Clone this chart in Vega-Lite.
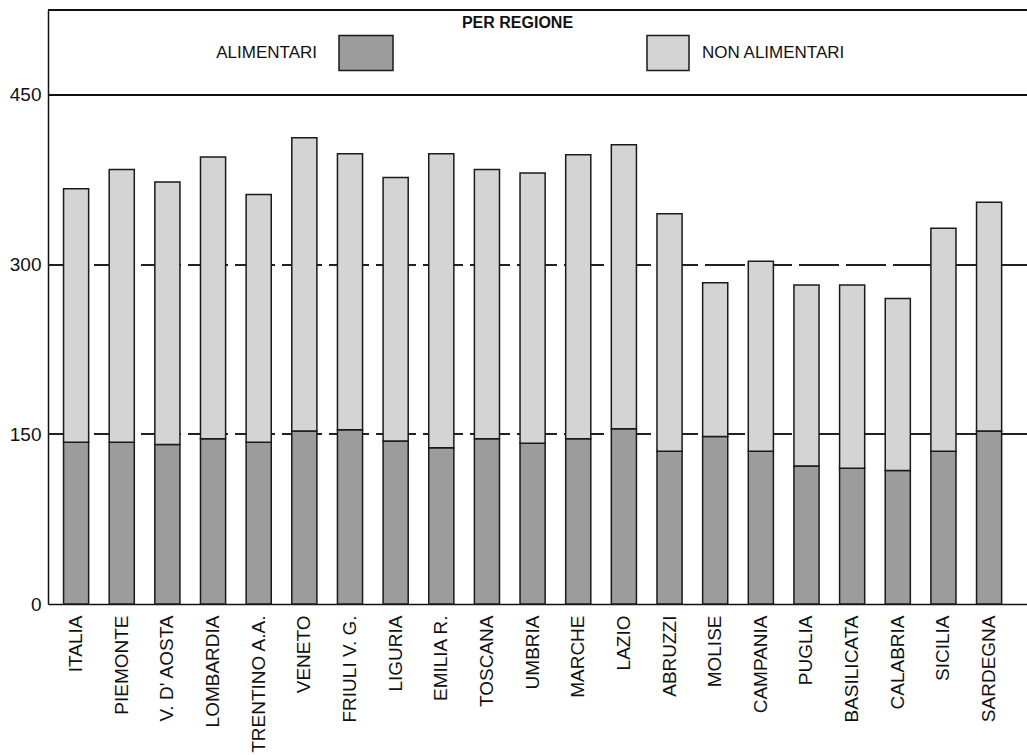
{
  "$schema": "https://vega.github.io/schema/vega-lite/v6.json",
  "width": 979,
  "height": 594,
  "autosize": {"type": "none"},
  "padding": {"left": 48, "top": 10, "right": 0, "bottom": 151},
  "background": "white",
  "config": {
    "font": "Liberation Sans",
    "view": {"stroke": null},
    "legend": {"padding": 0, "labelFont": "Liberation Sans", "labelFontSize": 17, "labelColor": "#111"}
  },
  "title": {
    "text": "PER REGIONE",
    "fontSize": 16,
    "fontWeight": "bold",
    "color": "#111",
    "anchor": "middle",
    "frame": "group",
    "dx": -20,
    "offset": -22
  },
  "data": {
    "values": [
      {"regione": "ITALIA", "alimentari": 143, "totale": 367},
      {"regione": "PIEMONTE", "alimentari": 143, "totale": 384},
      {"regione": "V.  D' AOSTA", "alimentari": 141, "totale": 373},
      {"regione": "LOMBARDIA", "alimentari": 146, "totale": 395},
      {"regione": "TRENTINO A.A.", "alimentari": 143, "totale": 362},
      {"regione": "VENETO", "alimentari": 153, "totale": 412},
      {"regione": "FRIULI V. G.", "alimentari": 154, "totale": 398},
      {"regione": "LIGURIA", "alimentari": 144, "totale": 377},
      {"regione": "EMILIA R.", "alimentari": 138, "totale": 398},
      {"regione": "TOSCANA", "alimentari": 146, "totale": 384},
      {"regione": "UMBRIA", "alimentari": 142, "totale": 381},
      {"regione": "MARCHE", "alimentari": 146, "totale": 397},
      {"regione": "LAZIO", "alimentari": 155, "totale": 406},
      {"regione": "ABRUZZI", "alimentari": 135, "totale": 345},
      {"regione": "MOLISE", "alimentari": 148, "totale": 284},
      {"regione": "CAMPANIA", "alimentari": 135, "totale": 303},
      {"regione": "PUGLIA", "alimentari": 122, "totale": 282},
      {"regione": "BASILICATA", "alimentari": 120, "totale": 282},
      {"regione": "CALABRIA", "alimentari": 118, "totale": 270},
      {"regione": "SICILIA", "alimentari": 135, "totale": 332},
      {"regione": "SARDEGNA", "alimentari": 153, "totale": 355}
    ]
  },
  "encoding": {
    "x": {
      "field": "regione",
      "type": "nominal",
      "sort": null,
      "scale": {"paddingInner": 0.45, "paddingOuter": 0.448, "align": 0.38},
      "axis": {
        "title": null,
        "labelAngle": -90,
        "labelFontSize": 19,
        "labelColor": "#111",
        "labelPadding": 11,
        "labelLimit": 200,
        "ticks": false,
        "domainColor": "#111",
        "domainWidth": 1.5
      }
    }
  },
  "layer": [
    {
      "mark": {"type": "rule", "color": "#222", "strokeWidth": 1.3, "strokeDash": [40, 7]},
      "encoding": {"x": null, "y": {"datum": 150, "type": "quantitative"}}
    },
    {
      "mark": {"type": "rule", "color": "#222", "strokeWidth": 1.3, "strokeDash": [40, 7]},
      "encoding": {"x": null, "y": {"datum": 300, "type": "quantitative"}}
    },
    {
      "mark": {"type": "rule", "color": "#111", "strokeWidth": 1.5},
      "encoding": {"x": null, "y": {"datum": 450, "type": "quantitative"}}
    },
    {
      "mark": {"type": "rule", "color": "#111", "strokeWidth": 1.5},
      "encoding": {"x": null, "y": {"datum": 525, "type": "quantitative"}}
    },
    {
      "mark": {"type": "bar", "stroke": "#1a1a1a", "strokeWidth": 1.5, "fillOpacity": 1},
      "encoding": {
        "y": {
          "field": "alimentari",
          "type": "quantitative",
          "scale": {"domain": [0, 525], "nice": false},
          "axis": {
            "title": null,
            "values": [0, 150, 300, 450],
            "grid": false,
            "ticks": false,
            "labelFontSize": 19,
            "labelColor": "#111",
            "labelPadding": 7,
            "domainColor": "#111",
            "domainWidth": 1.5
          }
        },
        "fill": {
          "datum": "ALIMENTARI",
          "scale": {"range": ["#9c9c9c"]},
          "legend": {
            "title": null,
            "orient": "none",
            "legendX": 290,
            "legendY": 15,
            "symbolType": "M-1,-0.65H1V0.65H-1Z",
            "symbolSize": 2916,
            "symbolStrokeColor": "#1a1a1a",
            "symbolStrokeWidth": 1.5,
            "symbolOpacity": 1,
            "labelAlign": "right",
            "labelOffset": -77
          }
        }
      }
    },
    {
      "mark": {"type": "bar", "stroke": "#1a1a1a", "strokeWidth": 1.5, "fillOpacity": 1},
      "encoding": {
        "y": {"field": "alimentari", "type": "quantitative"},
        "y2": {"field": "totale"},
        "fill": {
          "datum": "NON ALIMENTARI",
          "scale": {"range": ["#d4d4d4"]},
          "legend": {
            "title": null,
            "orient": "none",
            "legendX": 598,
            "legendY": 21,
            "symbolType": "M-1,-0.83H1V0.83H-1Z",
            "symbolSize": 1764,
            "symbolStrokeColor": "#1a1a1a",
            "symbolStrokeWidth": 1.5,
            "symbolOpacity": 1,
            "labelOffset": 12
          }
        }
      }
    }
  ],
  "resolve": {"scale": {"fill": "independent"}, "legend": {"fill": "independent"}}
}
